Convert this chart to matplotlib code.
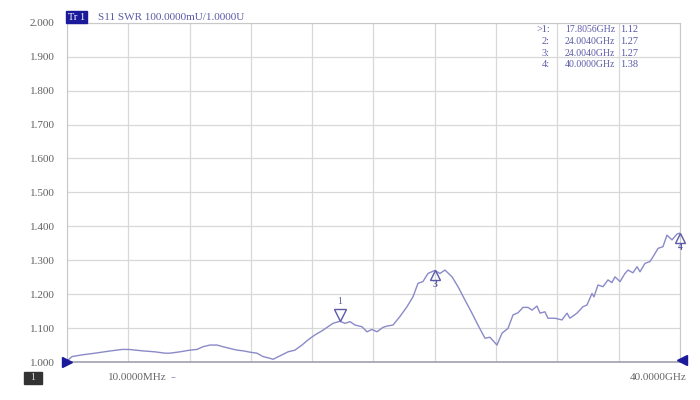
import matplotlib
matplotlib.use("Agg")
import matplotlib.pyplot as plt
from matplotlib.transforms import offset_copy

# S11 SWR trace (frequency in GHz)
freq_ghz = [0.01, 0.34, 0.99, 1.84, 2.75, 3.60, 4.06, 4.90, 5.75, 6.40,
            6.73, 7.38, 8.03, 8.49, 8.88, 9.34, 9.80, 10.19, 10.64, 11.10,
            11.49, 11.95, 12.40, 12.80, 13.25, 13.45, 13.90, 14.43, 14.88, 15.34,
            15.73, 16.19, 16.65, 17.04, 17.36, 17.8056, 18.15, 18.47, 18.80, 19.25,
            19.58, 19.91, 20.23, 20.62, 20.89, 21.28, 21.73, 22.19, 22.58, 22.91,
            23.23, 23.56, 24.004, 24.34, 24.67, 25.13, 25.52, 25.97, 26.43, 26.82,
            27.28, 27.60, 28.06, 28.39, 28.78, 29.11, 29.43, 29.76, 30.08, 30.35,
            30.67, 30.87, 31.19, 31.39, 31.85, 32.30, 32.63, 32.82, 33.28, 33.67,
            33.93, 34.26, 34.39, 34.65, 34.98, 35.30, 35.56, 35.76, 36.09, 36.41,
            36.61, 36.93, 37.20, 37.39, 37.72, 38.04, 38.24, 38.57, 38.89, 39.15,
            39.48, 39.80, 40.00]
swr = [1.003, 1.016, 1.021, 1.026, 1.032, 1.037, 1.037, 1.033, 1.030, 1.026,
       1.026, 1.030, 1.035, 1.037, 1.045, 1.050, 1.050, 1.045, 1.040, 1.035,
       1.033, 1.029, 1.026, 1.016, 1.011, 1.008, 1.018, 1.030, 1.035, 1.050,
       1.065, 1.080, 1.092, 1.104, 1.114, 1.120, 1.114, 1.119, 1.109, 1.104,
       1.089, 1.096, 1.089, 1.102, 1.106, 1.109, 1.134, 1.163, 1.192, 1.232,
       1.237, 1.261, 1.270, 1.261, 1.271, 1.251, 1.222, 1.183, 1.144, 1.109,
       1.070, 1.073, 1.050, 1.085, 1.099, 1.139, 1.145, 1.161, 1.161, 1.153,
       1.165, 1.144, 1.148, 1.129, 1.129, 1.124, 1.144, 1.129, 1.144, 1.163,
       1.168, 1.202, 1.192, 1.227, 1.222, 1.242, 1.234, 1.251, 1.237, 1.261,
       1.271, 1.263, 1.281, 1.266, 1.291, 1.296, 1.310, 1.335, 1.340, 1.374,
       1.360, 1.377, 1.380]

# markers
marker_id = ["1", "2", "3", "4"]
marker_freq = [17.8056, 24.0040, 24.0040, 40.0000]
marker_val = [1.12, 1.27, 1.27, 1.38]

yticks = [1.0, 1.1, 1.2, 1.3, 1.4, 1.5, 1.6, 1.7, 1.8, 1.9, 2.0]
f_start, f_stop = 0.01, 40.0

font = "Liberation Serif"
trace_c = "#8a8ac8"
text_c = "#5a5aa8"
navy = "#1a1a9a"

fig = plt.figure(figsize=(7, 4), dpi=100)
ax = fig.add_axes([0.0957, 0.095, 0.8757, 0.848])

ax.plot(freq_ghz, swr, color=trace_c, lw=1.0, zorder=3)

ax.set_xlim(f_start, f_stop)
ax.set_ylim(1.0, 2.0)
step = (f_stop - f_start) / 10
ax.set_xticks([f_start + i * step for i in range(11)])
ax.set_xticklabels([])
ax.set_yticks(yticks)
ax.set_yticklabels(["%.3f" % v for v in yticks], family=font, fontsize=8, color="#606060")
ax.tick_params(length=0, pad=9)
ax.grid(True, color="#d8d8d8", lw=0.9)
for s in ax.spines.values():
    s.set_color("#c8c8c8")
ax.spines["bottom"].set_color("#a0a0b0")
ax.spines["bottom"].set_linewidth(1.2)

# marker triangles
for mid, mf, mv in zip(marker_id, marker_freq, marker_val):
    if mid == "2":
        continue
    if mid == "1":
        tr = offset_copy(ax.transData, fig=fig, x=0, y=6, units="dots")
        ax.plot([mf], [mv], marker="v", ms=8.5, mfc="white", mec=text_c, mew=1.0,
                transform=tr, clip_on=False, zorder=4)
        ax.annotate(mid, (mf, mv), xytext=(0, 14), textcoords="offset points",
                    ha="center", va="center", fontsize=7, color=text_c, family=font)
    else:
        tr = offset_copy(ax.transData, fig=fig, x=0, y=-5, units="dots")
        ax.plot([mf], [mv], marker="^", ms=7.5, mfc="none", mec=text_c, mew=1.0,
                transform=tr, clip_on=False, zorder=4)
        ax.annotate(mid, (mf, mv), xytext=(0, -10.5), textcoords="offset points",
                    ha="center", va="center", fontsize=7, color=text_c, family=font,
                    fontweight="bold")

# marker readout table
for i, (mid, mf, mv) in enumerate(zip(marker_id, marker_freq, marker_val)):
    y = 370 - i * 11.5
    lab = (">" if i == 0 else "") + mid + ":"
    fig.text(550 / 700, y / 400, lab, ha="right", va="center", family=font,
             fontsize=7.5, color=text_c)
    fig.text(565 / 700, y / 400, "%.4fGHz" % mf, ha="left", va="center", family=font,
             fontsize=7, color=text_c)
    fig.text(620 / 700, y / 400, "%.2f" % mv, ha="left", va="center", family=font,
             fontsize=7.5, color=text_c)

# header
fig.text(68 / 700, 383 / 400, "Tr 1", ha="left", va="center", family=font,
         fontsize=7.5, color="white",
         bbox=dict(boxstyle="square,pad=0.15", fc=navy, ec=navy))
fig.text(98 / 700, 383 / 400, "S11 SWR 100.0000mU/1.0000U", ha="left", va="center",
         family=font, fontsize=8, color=text_c)

# reference and stimulus arrows
ax.plot([0], [0], marker=">", ms=7, color=navy, transform=ax.transAxes,
        clip_on=False, zorder=5)
ax.plot([1], [0], marker="<", ms=7, color=navy,
        transform=offset_copy(ax.transAxes, fig=fig, x=2, y=2, units="dots"),
        clip_on=False, zorder=5)

# footer
fig.text(33 / 700, 22 / 400, "  1  ", ha="center", va="center", family=font,
         fontsize=7, color="#dddddd",
         bbox=dict(boxstyle="square,pad=0.2", fc="#333333", ec="#333333"))
fig.text(108 / 700, 23 / 400, "10.0000MHz", ha="left", va="center", family=font,
         fontsize=8, color="#666666")
fig.text(171 / 700, 23 / 400, "\u2013", ha="left", va="center", family="DejaVu Sans",
         fontsize=7, color=trace_c)
fig.text(686 / 700, 23 / 400, "40.0000GHz", ha="right", va="center", family=font,
         fontsize=8, color="#666666")

fig.savefig("out.png", dpi=100)
